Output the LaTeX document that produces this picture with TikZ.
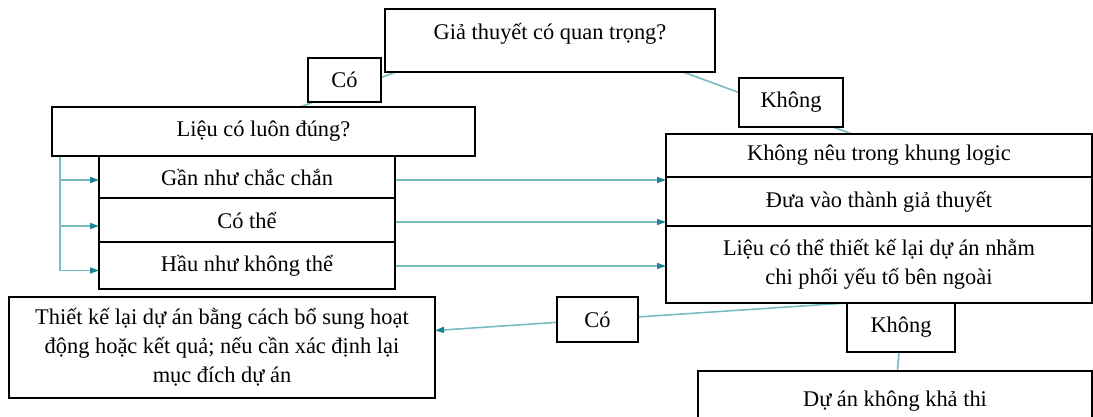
\documentclass[tikz,border=0pt]{standalone}
\usepackage{fontspec}
\setmainfont{Liberation Serif}
\usepackage{tikz}
\usetikzlibrary{arrows.meta, positioning, calc, backgrounds}
\definecolor{linkc}{RGB}{120,188,192}
\definecolor{tipc}{RGB}{30,130,150}
\newcommand{\vnsize}{\fontsize{11.2pt}{14.5pt}\selectfont}
\tikzstyle{box} = [rectangle, draw, line width=1pt, fill=white, text centered, align=center, inner sep=0pt, outer sep=0pt, font=\vnsize]
\tikzstyle{link} = [line width=0.8pt, linkc]
\tikzstyle{arrow} = [line width=0.8pt, linkc, -{Triangle[length=4.5pt, width=3pt, color=tipc]}]

\begin{document}
\begin{tikzpicture}[x=0.5pt, y=-0.5pt]
	\useasboundingbox (0,0) rectangle (1093,417);

	% Question
	\node (hyp) [box, minimum width=165pt, text height=15.5pt, text depth=16pt] at (550,40.5) {Giả thuyết có quan trọng?};
	\node (yesA) [box, minimum width=36.5pt, minimum height=22pt] at (344.5,80) {Có};
	\node (noA) [box, minimum width=52pt, minimum height=24.5pt] at (791,102.5) {Không};

	% Left branch
	\node (always) [box, minimum width=211.5pt, minimum height=24.5pt] at (263.5,131.5) {Liệu có luôn đúng?};
	\node (certain) [box, minimum width=148pt, minimum height=21pt] at (247,177) {Gần như chắc chắn};
	\node (possible) [box, minimum width=148pt, minimum height=22pt, below=0pt of certain] {Có thể};
	\node (unlikely) [box, minimum width=148pt, minimum height=23.5pt, below=0pt of possible] {Hầu như không thể};

	% Right branch
	\node (notstate) [box, minimum width=213pt, minimum height=21.5pt] at (879,155.5) {Không nêu trong khung logic};
	\node (assume) [box, minimum width=213pt, minimum height=24.5pt, below=0pt of notstate] {Đưa vào thành giả thuyết};
	\node (redesignq) [box, minimum width=213pt, minimum height=38.5pt, below=0pt of assume] {Liệu có thể thiết kế lại dự án nhằm\\chi phối yếu tố bên ngoài};

	% Outcomes
	\node (yesB) [box, minimum width=40.5pt, minimum height=22.5pt] at (597.5,319.5) {Có};
	\node (noB) [box, minimum width=54pt, minimum height=24.5pt] at (901,327.5) {Không};
	\node (redesign) [box, minimum width=213pt, minimum height=50.5pt] at (222,347.5) {Thiết kế lại dự án bằng cách bổ sung hoạt\\động hoặc kết quả; nếu cần xác định lại\\mục đích dự án};
	\node (infeasible) [box, minimum width=197pt, minimum height=30pt] at (895,401) {Dự án không khả thi};

	% Connectors
	\begin{scope}[on background layer]
		\draw[link] ($(hyp.south west)+(11,0)$) -- ($(always.north west)+(248,0)$);
		\draw[link] ($(hyp.south east)+(-32,0)$) -- ($(notstate.north west)+(186,0)$);
		\coordinate (trunk) at ($(always.south west)+(8,0)$);
		\draw[link] (trunk) -- ($(trunk |- unlikely.west)+(0,5)$);
		\draw[arrow] (trunk |- certain.west) ++(0,3) -- ($(certain.west)+(0,3)$);
		\draw[arrow] (trunk |- possible.west) ++(0,6) -- ($(possible.west)+(0,6)$);
		\draw[arrow] (trunk |- unlikely.west) ++(0,5) -- ($(unlikely.west)+(0,5)$);
		\draw[arrow] ($(certain.east)+(0,3)$) -- ($(certain.east -| notstate.west)+(0,3)$);
		\draw[arrow] ($(possible.east)+(0,2)$) -- ($(possible.east -| notstate.west)+(0,2)$);
		\draw[arrow] ($(unlikely.east)+(0,0.5)$) -- ($(unlikely.east -| notstate.west)+(0,0.5)$);
		\draw[arrow] (noB.north west) -- ($(redesign.east)+(0,-17)$);
		\draw[link] (noB) -- (infeasible);
	\end{scope}

\end{tikzpicture}
\end{document}
